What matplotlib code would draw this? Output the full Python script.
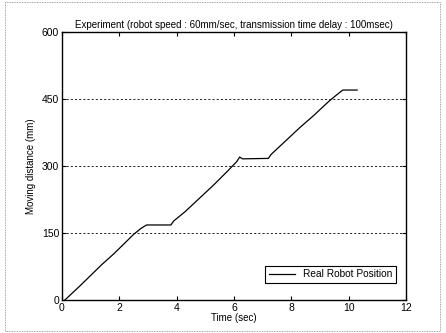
import matplotlib
matplotlib.use("Agg")
import matplotlib.pyplot as plt
from matplotlib.patches import Rectangle

time_s = [0.1, 0.3, 0.6, 1.0, 1.4, 1.8, 2.2, 2.5, 2.75, 2.95, 3.8, 3.9, 4.3, 4.8, 5.3, 5.8, 6.1, 6.2, 6.3, 7.2, 7.3, 7.8, 8.3, 8.8, 9.3, 9.6, 9.8, 10.3]
distance_mm = [0, 12, 30, 55, 80, 103, 128, 147, 160, 168, 168, 177, 198, 228, 258, 290, 310, 320, 316, 317, 326, 356, 386, 414, 444, 460, 470, 470]
xticks = [0, 2, 4, 6, 8, 10, 12]
yticks = [0, 150, 300, 450, 600]

plt.rcParams['font.family'] = ['Liberation Sans', 'DejaVu Sans']
fig = plt.figure(figsize=(4.46, 3.33), dpi=100)
ax = fig.add_axes([0.139, 0.099, 0.771, 0.805])
ax.plot(time_s, distance_mm, color='black', lw=0.9, label='Real Robot Position')
ax.set_xlim(0, 12)
ax.set_ylim(0, 600)
ax.set_xticks(xticks)
ax.set_yticks(yticks)
ax.tick_params(direction='in', labelsize=7.5, length=3, width=0.8, pad=2,
               top=True, right=True)
for s in ax.spines.values():
    s.set_linewidth(1.0)
ax.grid(axis='y', linestyle=(0, (2.5, 2.5)), color='black', lw=0.6)
ax.set_axisbelow(True)
ax.set_xlabel('Time (sec)', fontsize=7, labelpad=0)
ax.set_ylabel('Moving distance (mm)', fontsize=7, labelpad=4)
ax.set_title('Experiment (robot speed : 60mm/sec, transmission time delay : 100msec)', fontsize=7, pad=3)
leg = ax.legend(loc='lower right', fontsize=7.3, frameon=True, fancybox=False,
                edgecolor='black', framealpha=1, borderpad=0.35, handlelength=2.6,
                bbox_to_anchor=(0.987, 0.045))
leg.get_frame().set_linewidth(0.8)
fig.patches.append(Rectangle((0.012, 0.005), 0.975, 0.99, transform=fig.transFigure,
                             fill=False, edgecolor='#888888', lw=0.6, linestyle=(0, (1, 1))))
fig.savefig('out.png', dpi=100)
